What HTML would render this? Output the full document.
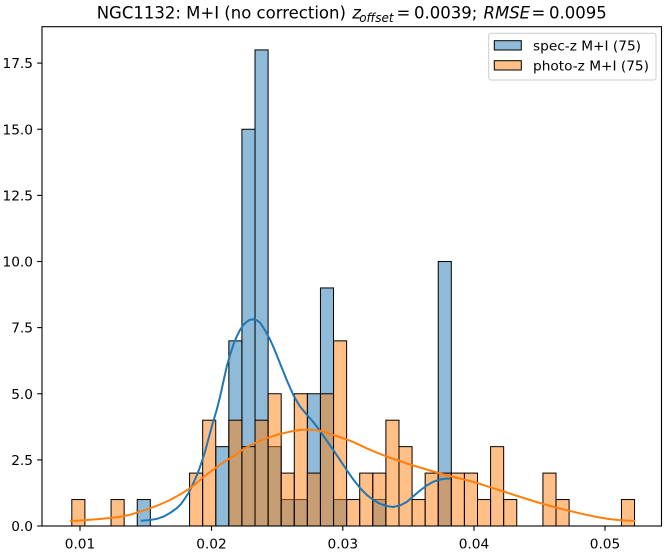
<!DOCTYPE html>
<html>
<head>
<meta charset="utf-8">
<style>
  html, body { margin: 0; padding: 0; background: #ffffff; }
  svg { display: block; }
  text { font-family: "DejaVu Sans", "Liberation Sans", sans-serif; fill: #000; }
</style>
</head>
<body>
<svg width="664" height="552" viewBox="0 0 664 552" xmlns="http://www.w3.org/2000/svg">
  <rect x="0" y="0" width="664" height="552" fill="#ffffff"/>

  <!-- Title -->
  <text x="96.7" y="18.3" font-size="16.5">NGC1132: M+I (no correction)</text>
  <text x="352.2" y="18.3" font-size="16.5" font-style="italic">z</text>
  <text x="359.2" y="21.8" font-size="12" font-style="italic">offset</text>
  <text x="396.5" y="18.3" font-size="16.5">=</text>
  <text x="414" y="18.3" font-size="16.5">0.0039;</text>
  <text x="483.5" y="18.3" font-size="16.5" font-style="italic">RMSE</text>
  <text x="531.5" y="18.3" font-size="16.5">=</text>
  <text x="549" y="18.3" font-size="16.5">0.0095</text>

  <!-- Blue (spec-z) bars -->
  <g fill="#1f77b4" fill-opacity="0.5" stroke="#000" stroke-width="1">
    <rect x="137.24" y="499.55" width="13.087" height="26.45"/>
    <rect x="215.76" y="446.65" width="13.087" height="79.35"/>
    <rect x="228.84" y="340.85" width="13.087" height="185.15"/>
    <rect x="241.93" y="129.25" width="13.087" height="396.75"/>
    <rect x="255.02" y="49.9" width="13.087" height="476.1"/>
    <rect x="268.11" y="446.65" width="13.087" height="79.35"/>
    <rect x="281.19" y="499.55" width="13.087" height="26.45"/>
    <rect x="294.28" y="499.55" width="13.087" height="26.45"/>
    <rect x="307.37" y="393.75" width="13.087" height="132.25"/>
    <rect x="320.45" y="287.95" width="13.087" height="238.05"/>
    <rect x="333.54" y="499.55" width="13.087" height="26.45"/>
    <rect x="372.80" y="499.55" width="13.087" height="26.45"/>
    <rect x="438.24" y="261.5" width="13.087" height="264.5"/>
  </g>

  <!-- Orange (photo-z) bars -->
  <g fill="#ff7f0e" fill-opacity="0.5" stroke="#000" stroke-width="1">
    <rect x="71.80" y="499.55" width="13.087" height="26.45"/>
    <rect x="111.06" y="499.55" width="13.087" height="26.45"/>
    <rect x="189.58" y="473.1" width="13.087" height="52.9"/>
    <rect x="202.67" y="420.2" width="13.087" height="105.8"/>
    <rect x="228.84" y="420.2" width="13.087" height="105.8"/>
    <rect x="241.93" y="446.65" width="13.087" height="79.35"/>
    <rect x="255.02" y="420.2" width="13.087" height="105.8"/>
    <rect x="268.11" y="393.75" width="13.087" height="132.25"/>
    <rect x="281.19" y="473.1" width="13.087" height="52.9"/>
    <rect x="294.28" y="393.75" width="13.087" height="132.25"/>
    <rect x="307.37" y="473.1" width="13.087" height="52.9"/>
    <rect x="320.45" y="393.75" width="13.087" height="132.25"/>
    <rect x="333.54" y="340.85" width="13.087" height="185.15"/>
    <rect x="346.63" y="499.55" width="13.087" height="26.45"/>
    <rect x="359.71" y="473.1" width="13.087" height="52.9"/>
    <rect x="372.80" y="473.1" width="13.087" height="52.9"/>
    <rect x="385.89" y="420.2" width="13.087" height="105.8"/>
    <rect x="398.98" y="446.65" width="13.087" height="79.35"/>
    <rect x="412.06" y="499.55" width="13.087" height="26.45"/>
    <rect x="425.15" y="473.1" width="13.087" height="52.9"/>
    <rect x="438.24" y="473.1" width="13.087" height="52.9"/>
    <rect x="451.32" y="473.1" width="13.087" height="52.9"/>
    <rect x="464.41" y="473.1" width="13.087" height="52.9"/>
    <rect x="477.50" y="499.55" width="13.087" height="26.45"/>
    <rect x="490.58" y="446.65" width="13.087" height="79.35"/>
    <rect x="503.67" y="499.55" width="13.087" height="26.45"/>
    <rect x="542.93" y="473.1" width="13.087" height="52.9"/>
    <rect x="556.02" y="499.55" width="13.087" height="26.45"/>
    <rect x="621.45" y="499.55" width="13.087" height="26.45"/>
  </g>

  <!-- KDE curves -->
  <polyline fill="none" stroke="#1f77b4" stroke-width="2" stroke-linejoin="round" stroke-linecap="square"
    points="141.7,520.7 150,520 157,518.8 163.3,516.7 170,513 176.7,508.3 181,504 185,498.3 188.5,493 191.7,486.7 195,479.5 198.3,471.7 201.7,462 205,451.7 208.3,439.5 211.7,426.7 214.3,418 216.7,410 220,397 223.3,382 226.7,366.7 230,355 233.3,345 236.7,336.5 240,330 243.3,325 246.7,321.7 250,319.8 253.3,319.3 256.7,320.3 260,322.7 263.3,327.5 266.7,333.3 270,339.5 273.3,346.7 276.7,355 280,363.3 283.3,371.5 286.7,380 290,387.5 293.3,395 296.7,401 300,406.5 306.7,414.5 313.3,422 320,431 326.7,440.5 333.3,450 340,460 346.7,470 353.3,479.5 360,488 366.7,494.8 373.3,500 380,503.7 386.7,506 393,507 400,505.5 406.7,502 413,496.5 420,490.5 426.7,485.5 433.3,481.7 440,479.5 446.7,478.5 449.3,478.6"/>
  <polyline fill="none" stroke="#ff7f0e" stroke-width="2" stroke-linejoin="round" stroke-linecap="square"
    points="71,521 80,520.5 90,519.8 100,519 110,518 120,516.8 130,514.8 140,511.6 150,508.3 160,504.5 170,500 180,494.5 190,488.3 196,483.5 201.7,478.5 208,473.5 215,468.3 222,463.3 230,458.3 236,454.5 241.5,450.5 248,446.5 255,443 261,440.3 267,438 274,435.8 280,434 287,432.3 293.3,431 300,430 306.7,429.6 313,429.8 320,430.7 326.7,432.5 333.3,435 341,437.5 350,440.7 358,444.2 366.7,448.3 376,452.3 386.7,456.5 393,458.8 400,461 410,464.5 420,467.5 430,470.5 440,473.3 450,476 460,478.5 470,481 477.3,483 490,487.2 503.7,491.5 515,495.2 530,500 543.3,504 556,507.5 569.3,510.8 582,513.8 595,516.6 608.7,519 621,520.3 634.3,521"/>

  <!-- Axes frame -->
  <rect x="42" y="26.7" width="619.5" height="499.3" fill="none" stroke="#000" stroke-width="1.1"/>

  <!-- Y ticks -->
  <g stroke="#000" stroke-width="1.1">
    <line x1="37.2" y1="526" x2="42" y2="526"/>
    <line x1="37.2" y1="459.9" x2="42" y2="459.9"/>
    <line x1="37.2" y1="393.75" x2="42" y2="393.75"/>
    <line x1="37.2" y1="327.6" x2="42" y2="327.6"/>
    <line x1="37.2" y1="261.5" x2="42" y2="261.5"/>
    <line x1="37.2" y1="195.4" x2="42" y2="195.4"/>
    <line x1="37.2" y1="129.25" x2="42" y2="129.25"/>
    <line x1="37.2" y1="63.1" x2="42" y2="63.1"/>
  </g>
  <g font-size="13.7" text-anchor="end">
    <text x="33" y="531">0.0</text>
    <text x="33" y="464.9">2.5</text>
    <text x="33" y="398.75">5.0</text>
    <text x="33" y="332.6">7.5</text>
    <text x="33" y="266.5">10.0</text>
    <text x="33" y="200.4">12.5</text>
    <text x="33" y="134.25">15.0</text>
    <text x="33" y="68.1">17.5</text>
  </g>

  <!-- X ticks -->
  <g stroke="#000" stroke-width="1.1">
    <line x1="80" y1="526" x2="80" y2="530.8"/>
    <line x1="211.5" y1="526" x2="211.5" y2="530.8"/>
    <line x1="342.8" y1="526" x2="342.8" y2="530.8"/>
    <line x1="474" y1="526" x2="474" y2="530.8"/>
    <line x1="605" y1="526" x2="605" y2="530.8"/>
  </g>
  <g font-size="13.7" text-anchor="middle">
    <text x="80" y="548.5">0.01</text>
    <text x="211.5" y="548.5">0.02</text>
    <text x="342.8" y="548.5">0.03</text>
    <text x="474" y="548.5">0.04</text>
    <text x="605" y="548.5">0.05</text>
  </g>

  <!-- Legend -->
  <rect x="488.7" y="33.3" width="167.3" height="46.7" rx="2.5" ry="2.5" fill="#ffffff" fill-opacity="0.8" stroke="#cccccc" stroke-width="1"/>
  <rect x="494.3" y="40.7" width="27" height="9.3" fill="#1f77b4" fill-opacity="0.5" stroke="#000" stroke-width="1"/>
  <rect x="494.3" y="60.7" width="27" height="9.3" fill="#ff7f0e" fill-opacity="0.5" stroke="#000" stroke-width="1"/>
  <text x="533" y="50.3" font-size="13.7">spec-z M+I (75)</text>
  <text x="533" y="70.3" font-size="13.7">photo-z M+I (75)</text>
</svg>
</body>
</html>
